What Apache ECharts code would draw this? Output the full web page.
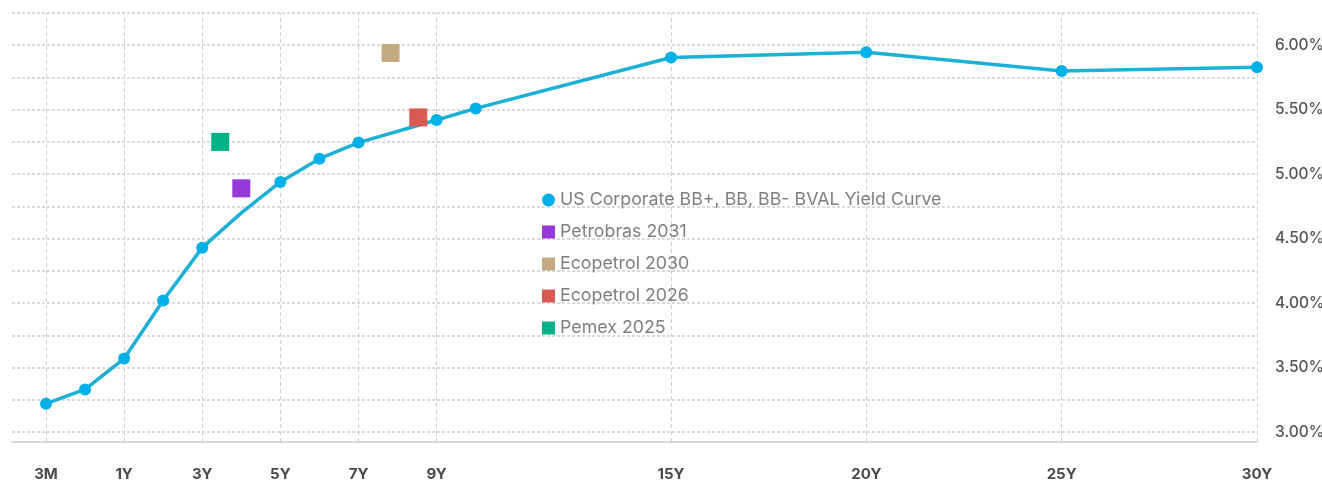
<!DOCTYPE html>
<html>
<head>
<meta charset="utf-8">
<script src="https://cdn.jsdelivr.net/npm/echarts@6/dist/echarts.min.js"></script>
<style>
  html, body { margin: 0; padding: 0; background: #ffffff; }
  #chart { width: 1322px; height: 482px; }
</style>
</head>
<body>
<div id="chart"></div>
<script>
// ---- data ----
// tenor positions on the horizontal scale (3M sits two steps left of 1Y)
const curveX = [-1, 0, 1, 2, 3, 4, 5, 6, 7, 9, 10, 15, 20, 25, 30];
const curveY = [3.22, 3.33, 3.57, 4.02, 4.43, 4.70, 4.94, 5.12, 5.245, 5.42, 5.51, 5.905, 5.945, 5.80, 5.83];
const curveMarker = [true, true, true, true, true, false, true, true, true, true, true, true, true, true, true];
const curveName = 'US Corporate BB+, BB, BB- BVAL Yield Curve';

const bondNames = ['Petrobras 2031', 'Ecopetrol 2030', 'Ecopetrol 2026', 'Pemex 2025'];
const bondX = [4.0, 7.82, 8.53, 3.46];
const bondY = [4.89, 5.94, 5.44, 5.25];
const bondColors = ['#9539d9', '#c4aa82', '#d95a52', '#00b387'];

const xTickValues = [-1, 1, 3, 5, 7, 9, 15, 20, 25, 30];
const xTickLabels = ['3M', '1Y', '3Y', '5Y', '7Y', '9Y', '15Y', '20Y', '25Y', '30Y'];
const yMin = 3.0, yMax = 6.25, yGridStep = 0.25, yLabelStep = 0.5;

// ---- chart ----
const FONT = 'Inter, "Noto Sans", sans-serif';
const chart = echarts.init(document.getElementById('chart'), null, { renderer: 'canvas' });

const gridLeft = 12, gridRight = 65, gridTop = 13, gridBottom = 50;
const axisDrop = 10;
const gridH = 482 - gridTop - gridBottom;

const lineData = curveX.map((x, i) => curveMarker[i]
  ? [x, curveY[i]]
  : { value: [x, curveY[i]], symbol: 'none' });

const series = [{
  name: curveName,
  type: 'line',
  data: lineData,
  symbol: 'circle',
  symbolSize: 12,
  showSymbol: true,
  lineStyle: { color: '#1cb1d5', width: 3.5 },
  itemStyle: { color: '#00b0e6' },
  z: 3,
  silent: true
}];
bondNames.forEach((n, i) => {
  series.push({
    name: n,
    type: 'scatter',
    data: [[bondX[i], bondY[i]]],
    symbol: 'rect',
    symbolSize: 18,
    itemStyle: { color: bondColors[i], opacity: 1 },
    z: 4,
    silent: true
  });
});

chart.setOption({
  animation: false,
  backgroundColor: '#ffffff',
  grid: {
    left: gridLeft, right: gridRight, top: gridTop, bottom: gridBottom,
    containLabel: false, outerBoundsMode: 'none'
  },
  legend: {
    orient: 'vertical',
    left: 537,
    top: 186,
    itemWidth: 13,
    itemHeight: 13,
    itemGap: 14,
    selectedMode: false,
    data: [{ name: curveName, icon: 'circle' }].concat(bondNames.map(n => ({ name: n, icon: 'rect' }))),
    textStyle: { fontFamily: FONT, fontSize: 17.8, color: '#808080' }
  },
  xAxis: {
    type: 'value',
    min: -1.87,
    max: 30,
    offset: axisDrop,
    splitLine: { show: false },
    axisLine: { show: true, lineStyle: { color: '#cccccc', width: 1.5 } },
    axisTick: {
      show: true,
      inside: true,
      length: gridH + axisDrop,
      customValues: xTickValues,
      lineStyle: { color: '#d0d0d0', type: [4, 3], width: 1 }
    },
    axisLabel: {
      customValues: xTickValues,
      formatter: v => { const i = xTickValues.indexOf(v); return i >= 0 ? xTickLabels[i] : ''; },
      margin: 25,
      fontFamily: FONT,
      fontSize: 15,
      fontWeight: 'bold',
      color: '#4a4a4a'
    }
  },
  yAxis: {
    type: 'value',
    position: 'right',
    min: yMin,
    max: yMax,
    interval: yGridStep,
    splitLine: { show: true, lineStyle: { color: '#cfcfcf', type: [3, 2], width: 1.5 } },
    axisLine: { show: false },
    axisTick: { show: false },
    axisLabel: {
      formatter: v => (Math.abs(v / yLabelStep - Math.round(v / yLabelStep)) < 1e-6 && v < yMax) ? v.toFixed(2) + '%' : '',
      margin: 18,
      fontFamily: FONT,
      fontSize: 15.5,
      fontWeight: 500,
      color: '#555555'
    }
  },
  series: series
});
</script>
</body>
</html>
